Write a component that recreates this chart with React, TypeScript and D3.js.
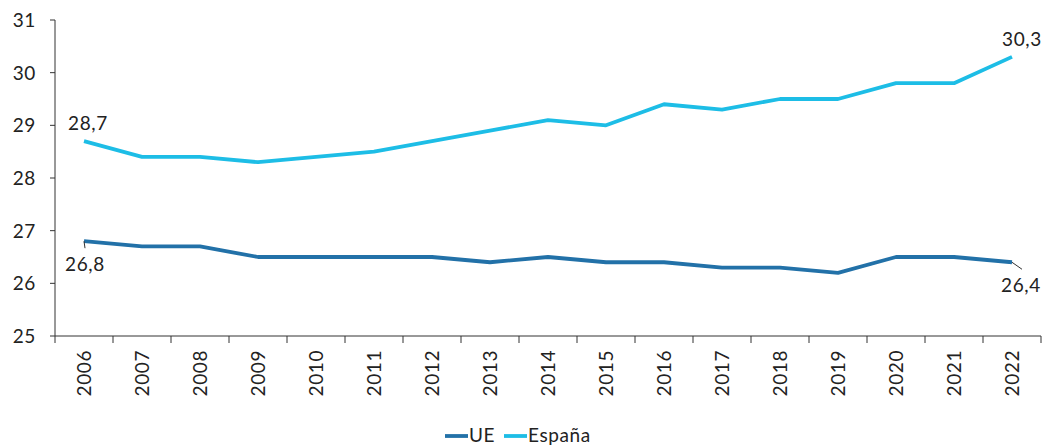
import React from "react";
import * as d3 from "d3";

const years = ["2006","2007","2008","2009","2010","2011","2012","2013","2014","2015","2016","2017","2018","2019","2020","2021","2022"];
const ue = [26.8,26.7,26.7,26.5,26.5,26.5,26.5,26.4,26.5,26.4,26.4,26.3,26.3,26.2,26.5,26.5,26.4];
const espana = [28.7,28.4,28.4,28.3,28.4,28.5,28.7,28.9,29.1,29.0,29.4,29.3,29.5,29.5,29.8,29.8,30.3];
const yTicks = [25,26,27,28,29,30,31];

const W = 1048, H = 446;
const FONT = "Lato, 'Noto Sans', sans-serif";
const TXT = "#222";
const C_UE = "#2271a8";
const C_ES = "#1dbde6";
const FS = 19;
const LS = 0.6;

export default function App() {
  const x = d3.scaleBand<string>().domain(years).range([55, 1041]);
  const y = d3.scaleLinear().domain([25, 31]).range([336, 20]);
  const cx = (i: number) => (x(years[i]) as number) + x.bandwidth() / 2;
  const line = d3.line<number>().x((_, i) => cx(i)).y((v) => y(v));
  const fmt = (v: number) => v.toFixed(1).replace(".", ",");
  const last = years.length - 1;
  const ticksX = [...years.map((yr) => x(yr) as number), 1041];

  return (
    <svg width={W} height={H} style={{ position: "absolute", left: 0, top: 0 }} fontFamily={FONT} letterSpacing={LS}>
      {/* y axis */}
      <line x1={55} x2={55} y1={20} y2={336} stroke="#333" strokeWidth={1} />
      {yTicks.map((t) => (
        <g key={t}>
          <line x1={50} x2={55} y1={y(t)} y2={y(t)} stroke="#333" />
          <text x={36} y={y(t)} dy="0.36em" textAnchor="end" fontSize={FS} fill={TXT}>{t}</text>
        </g>
      ))}
      {/* x axis */}
      <line x1={55} x2={1041} y1={336} y2={336} stroke="#333" />
      {ticksX.map((tx, i) => (
        <line key={i} x1={tx} x2={tx} y1={336} y2={343} stroke="#333" />
      ))}
      {years.map((yr, i) => (
        <text key={yr} transform={`translate(${cx(i) + 7},350) rotate(-90)`} textAnchor="end" fontSize={FS} fill={TXT}>{yr}</text>
      ))}
      {/* lines */}
      <path d={line(espana) as string} fill="none" stroke={C_ES} strokeWidth={3.8} strokeLinejoin="round" />
      <path d={line(ue) as string} fill="none" stroke={C_UE} strokeWidth={3.8} strokeLinejoin="round" />
      {/* labels */}
      <text x={cx(0) + 4} y={y(espana[0]) - 11} textAnchor="middle" fontSize={FS} fill={TXT}>{fmt(espana[0])}</text>
      <text x={cx(last) + 10} y={y(espana[last]) - 11} textAnchor="middle" fontSize={FS} fill={TXT}>{fmt(espana[last])}</text>
      <line x1={cx(0)} y1={y(ue[0])} x2={cx(0) + 1} y2={y(ue[0]) + 7} stroke="#333" strokeWidth={1} />
      <text x={cx(0) + 1} y={y(ue[0]) + 30} textAnchor="middle" fontSize={FS} fill={TXT}>{fmt(ue[0])}</text>
      <line x1={cx(last)} y1={y(ue[last])} x2={cx(last) + 10} y2={y(ue[last]) + 7} stroke="#333" strokeWidth={1} />
      <text x={cx(last) + 9} y={y(ue[last]) + 30} textAnchor="middle" fontSize={FS} fill={TXT}>{fmt(ue[last])}</text>
      {/* legend */}
      <line x1={445} x2={468} y1={436} y2={436} stroke={C_UE} strokeWidth={3.8} />
      <text x={469} y={442} fontSize={FS} fill={TXT}>UE</text>
      <line x1={504} x2={527} y1={436} y2={436} stroke={C_ES} strokeWidth={3.8} />
      <text x={528} y={442} fontSize={FS} fill={TXT}>España</text>
    </svg>
  );
}
